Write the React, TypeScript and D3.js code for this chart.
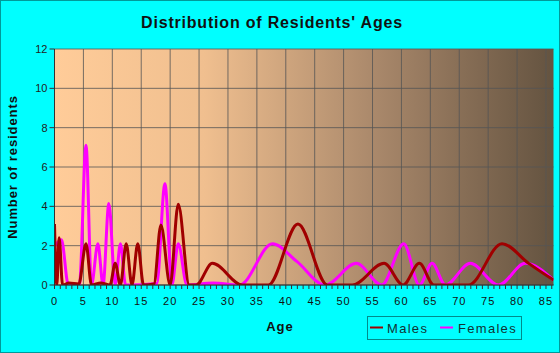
import React from "react";
import * as d3 from "d3";

// ages (x) and counts
const maleAges = [0, 0.4, 0.8, 1.4, 2.5, 4.2, 5.45, 6.4, 8, 9.6, 10.5, 11.4, 12.4, 13.4, 14.4, 15.4, 17.2, 18.4, 20, 21.4, 23.3, 24.5, 27.3, 32.5, 37, 42.1, 47.2, 51.5, 57, 60.3, 63.1, 65.6, 71.6, 77.4, 82, 86.3];
const maleCounts = [3.1, 0, 2.4, 0, 0.1, 0.05, 2.1, 0, 0.1, 0, 1.1, 0, 2.1, 0, 2.1, 0, 0.05, 3.05, 0, 4.1, 0, 0, 1.1, 0, 0, 3.1, 0, 0, 1.1, 0, 1.1, 0, 0, 2.1, 1.1, 0.25];

const femaleAges = [0.1, 1.2, 2.4, 4.3, 5.45, 6.4, 7.5, 8.4, 9.4, 10.5, 11.4, 12.3, 17.7, 19.1, 20.3, 21.4, 22.9, 27.4, 32, 37.7, 41.9, 46.8, 52.2, 56.6, 60.4, 63.1, 65.3, 67.6, 71.9, 76.8, 81.4, 86.3];
const femaleCounts = [2.0, 2.3, 0, 0, 7.1, 0, 2.1, 0, 4.15, 0, 2.1, 0, 0.08, 5.15, 0, 2.1, 0, 0.1, 0, 2.1, 1.2, 0, 1.1, 0, 2.1, 0, 1.1, 0, 1.1, 0, 1.1, 0.25];

const xTicks = [0, 5, 10, 15, 20, 25, 30, 35, 40, 45, 50, 55, 60, 65, 70, 75, 80, 85];
const yTicks = [0, 2, 4, 6, 8, 10, 12];

const W = 560;
const H = 353;
const left = 54.5;
const right = 553.5;
const top = 49;
const bottom = 285;

const font = "Arial, 'Liberation Sans', sans-serif";

export default function App() {
  const x = d3.scaleLinear().domain([0, 86.3]).range([left, right]);
  const y = d3.scaleLinear().domain([0, 12]).range([bottom, top]);

  const line = d3
    .line<[number, number]>()
    .x((d) => x(d[0]))
    .y((d) => y(d[1]))
    .curve(d3.curveMonotoneX);

  const males = maleAges.map((a, i) => [a, maleCounts[i]] as [number, number]);
  const females = femaleAges.map((a, i) => [a, femaleCounts[i]] as [number, number]);
  const minor = d3.range(0, 87, 1);

  return (
    <svg
      width={W}
      height={H}
      style={{ position: "absolute", left: 0, top: 0, background: "#00ffff" }}
    >
      <defs>
        <linearGradient id="bg" x1="0" x2="1" y1="0" y2="0">
          <stop offset="0" stopColor="#ffcc99" />
          <stop offset="0.3" stopColor="#f0bf8f" />
          <stop offset="0.65" stopColor="#a8876a" />
          <stop offset="1" stopColor="#645340" />
        </linearGradient>
        <clipPath id="plot">
          <rect x={left} y={top} width={right - left} height={bottom - top} />
        </clipPath>
      </defs>
      <rect x={0.5} y={0.5} width={W - 1} height={H - 1} fill="#00ffff" stroke="#009a9a" />

      <text
        x={272}
        y={28}
        textAnchor="middle"
        fontFamily={font}
        fontSize={16}
        fontWeight="bold"
        letterSpacing={0.8}
        fill="#111"
      >
        Distribution of Residents' Ages
      </text>

      <rect x={left} y={top} width={right - left} height={bottom - top} fill="url(#bg)" />

      {/* grid */}
      {xTicks.map((t) => (
        <line key={"gx" + t} x1={x(t)} x2={x(t)} y1={top} y2={bottom} stroke="#555" strokeOpacity={0.8} />
      ))}
      {yTicks.map((t) => (
        <line key={"gy" + t} x1={left} x2={right} y1={y(t)} y2={y(t)} stroke="#555" strokeOpacity={0.8} />
      ))}

      <g clipPath="url(#plot)">
        <path d={line(females) || ""} fill="none" stroke="#ff00ff" strokeWidth={3} />
        <path d={line(males) || ""} fill="none" stroke="#a00000" strokeWidth={3} />
      </g>

      {/* y axis */}
      <line x1={left} x2={left} y1={top} y2={bottom} stroke="#333" />
      {yTicks.map((t) => (
        <g key={"yt" + t}>
          <line x1={left - 5} x2={left} y1={y(t)} y2={y(t)} stroke="#333" />
          <text
            x={left - 7}
            y={y(t) + 4}
            textAnchor="end"
            fontFamily={font}
            fontSize={11}
            fill="#222"
          >
            {t}
          </text>
        </g>
      ))}

      {/* x axis */}
      <line x1={left} x2={right} y1={bottom} y2={bottom} stroke="#333" />
      {minor.map((t) => (
        <line key={"xt" + t} x1={x(t)} x2={x(t)} y1={bottom} y2={bottom + 4} stroke="#333" />
      ))}
      {xTicks.map((t) => (
        <text
          key={"xl" + t}
          x={x(t)}
          y={305}
          textAnchor="middle"
          fontFamily={font}
          fontSize={11}
          letterSpacing={1}
          fill="#111"
        >
          {t}
        </text>
      ))}

      <text
        x={280}
        y={331}
        textAnchor="middle"
        fontFamily={font}
        fontSize={13}
        fontWeight="bold"
        letterSpacing={1}
        fill="#111"
      >
        Age
      </text>
      <text
        transform={`translate(17,${(top + bottom) / 2}) rotate(-90)`}
        textAnchor="middle"
        fontFamily={font}
        fontSize={13}
        fontWeight="bold"
        letterSpacing={0.9}
        fill="#111"
      >
        Number of residents
      </text>

      {/* legend */}
      <rect x={367.5} y={316.5} width={154} height={23} fill="none" stroke="#008b8b" />
      <line x1={370} x2={383} y1={327.5} y2={327.5} stroke="#a00000" strokeWidth={2} />
      <text x={387} y={333} fontFamily={font} fontSize={13} letterSpacing={1.3} fill="#113333">
        Males
      </text>
      <line x1={440} x2={453} y1={327.5} y2={327.5} stroke="#ff00ff" strokeWidth={2} />
      <text x={458} y={333} fontFamily={font} fontSize={13} letterSpacing={1.3} fill="#113333">
        Females
      </text>
    </svg>
  );
}
